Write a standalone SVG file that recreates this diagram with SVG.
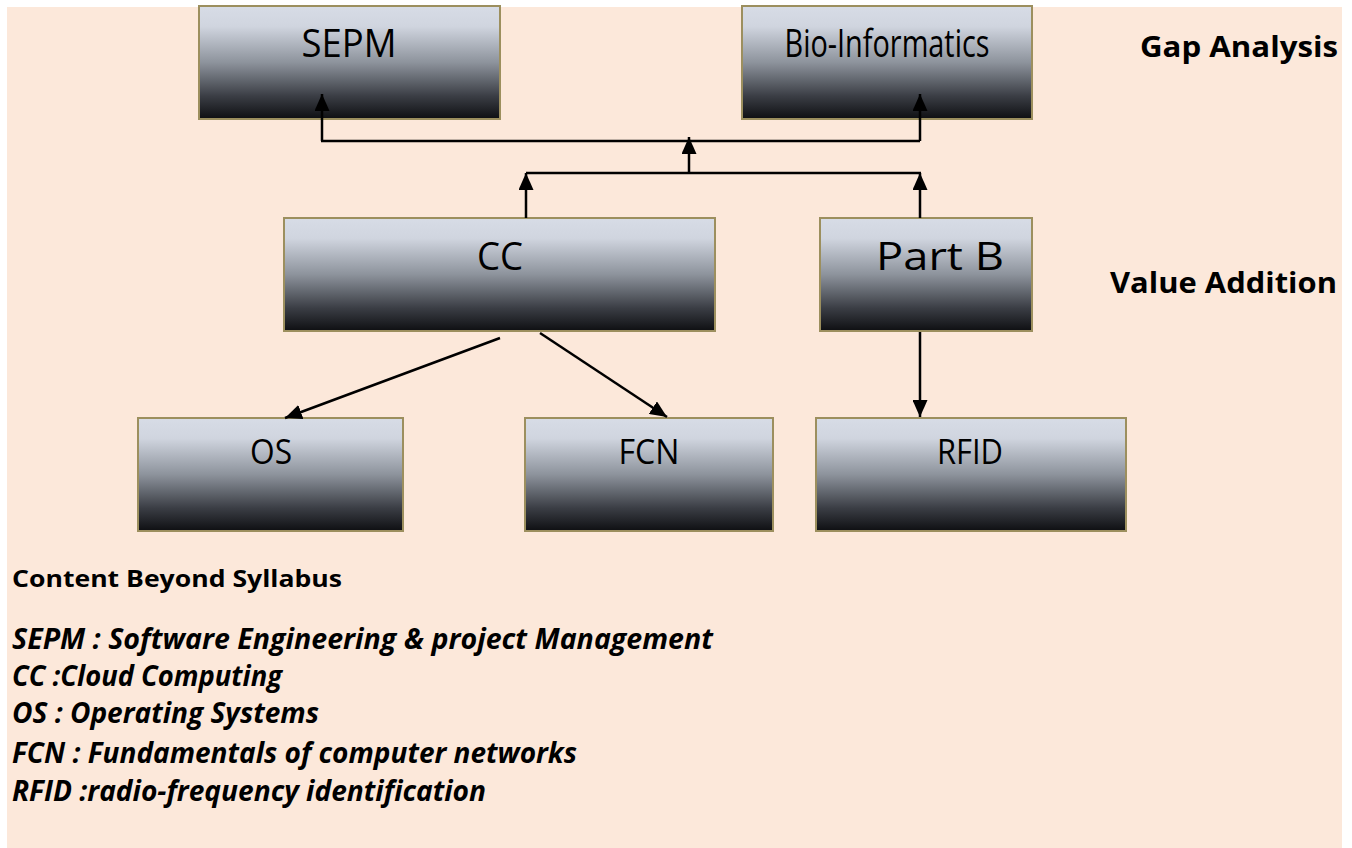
<svg xmlns="http://www.w3.org/2000/svg" width="1352" height="848" viewBox="0 0 1352 848">
  <style>
    .box { stroke: #9C8F5E; stroke-width: 2; fill: url(#g); }
    .lbl { font-family: "Open Sans", "Liberation Sans", sans-serif; fill: #000; text-anchor: middle; }
    .big { font-size: 39px; }
    .med { font-size: 34px; }
    .side { font-family: "Open Sans", "Liberation Sans", sans-serif; font-weight: bold; font-size: 29px; fill: #000; }
    .leg { font-family: "Open Sans", "Liberation Sans", sans-serif; font-weight: bold; font-style: italic; font-size: 28px; fill: #000; }
    .con { stroke: #000; stroke-width: 2.5; fill: none; }
  </style>
  <defs>
    <linearGradient id="g" x1="0" y1="0" x2="0" y2="1">
      <stop offset="0" stop-color="#D7DCE6"/>
      <stop offset="0.18" stop-color="#D0D5DF"/>
      <stop offset="0.5" stop-color="#8D939C"/>
      <stop offset="0.8" stop-color="#3A3D44"/>
      <stop offset="1" stop-color="#0E0F12"/>
    </linearGradient>
    <marker id="ah" markerWidth="17" markerHeight="15" refX="17" refY="7.5" orient="auto" markerUnits="userSpaceOnUse" viewBox="0 0 17 15">
      <path d="M0,0 L17,7.5 L0,15 Z" fill="#000"/>
    </marker>
  </defs>
  <rect x="7" y="7" width="1335" height="841" fill="#FCE8DA"/>

  <g id="n-sepm">
    <rect class="box" x="199" y="6" width="301" height="113"/>
    <text class="lbl big" x="349" y="57" textLength="95" lengthAdjust="spacingAndGlyphs">SEPM</text>
  </g>
  <g id="n-bio">
    <rect class="box" x="742" y="6" width="290" height="113"/>
    <text class="lbl big" x="887" y="57" textLength="205" lengthAdjust="spacingAndGlyphs">Bio-Informatics</text>
  </g>
  <g id="n-cc">
    <rect class="box" x="284" y="218" width="431" height="113"/>
    <text class="lbl big" x="500" y="270" textLength="46" lengthAdjust="spacingAndGlyphs">CC</text>
  </g>
  <g id="n-partb">
    <rect class="box" x="820" y="218" width="212" height="113"/>
    <text class="lbl big" x="940" y="270" textLength="128" lengthAdjust="spacingAndGlyphs">Part B</text>
  </g>
  <g id="n-os">
    <rect class="box" x="138" y="418" width="265" height="113"/>
    <text class="lbl med" x="271" y="464" textLength="42" lengthAdjust="spacingAndGlyphs">OS</text>
  </g>
  <g id="n-fcn">
    <rect class="box" x="525" y="418" width="248" height="113"/>
    <text class="lbl med" x="649" y="464" textLength="61" lengthAdjust="spacingAndGlyphs">FCN</text>
  </g>
  <g id="n-rfid">
    <rect class="box" x="816" y="418" width="310" height="113"/>
    <text class="lbl med" x="970" y="464" textLength="66" lengthAdjust="spacingAndGlyphs">RFID</text>
  </g>

  <g id="connectors">
    <line class="con" x1="322" y1="141" x2="322" y2="94" marker-end="url(#ah)"/>
    <line class="con" x1="321" y1="141" x2="920" y2="141"/>
    <line class="con" x1="920" y1="141" x2="920" y2="94" marker-end="url(#ah)"/>
    <line class="con" x1="689" y1="173" x2="689" y2="137" marker-end="url(#ah)"/>
    <line class="con" x1="526" y1="173" x2="921" y2="173"/>
    <line class="con" x1="526" y1="218" x2="526" y2="173" marker-end="url(#ah)"/>
    <line class="con" x1="920" y1="218" x2="920" y2="173" marker-end="url(#ah)"/>
    <line class="con" x1="500" y1="338" x2="285" y2="418" marker-end="url(#ah)"/>
    <line class="con" x1="540" y1="333" x2="667" y2="417" marker-end="url(#ah)"/>
    <line class="con" x1="920" y1="332" x2="920" y2="417" marker-end="url(#ah)"/>
  </g>

  <text class="side" x="1140" y="57" textLength="198" lengthAdjust="spacingAndGlyphs">Gap Analysis</text>
  <text class="side" x="1110" y="293" textLength="227" lengthAdjust="spacingAndGlyphs">Value Addition</text>

  <text class="side" x="12" y="587" style="font-size:24px" textLength="330" lengthAdjust="spacingAndGlyphs">Content Beyond Syllabus</text>
  <text class="leg" x="12" y="649" textLength="701" lengthAdjust="spacingAndGlyphs">SEPM : Software Engineering &amp; project Management</text>
  <text class="leg" x="12" y="686" textLength="270" lengthAdjust="spacingAndGlyphs">CC :Cloud Computing</text>
  <text class="leg" x="12" y="723" textLength="307" lengthAdjust="spacingAndGlyphs">OS : Operating Systems</text>
  <text class="leg" x="12" y="763" textLength="565" lengthAdjust="spacingAndGlyphs">FCN : Fundamentals of computer networks</text>
  <text class="leg" x="12" y="801" textLength="474" lengthAdjust="spacingAndGlyphs">RFID :radio-frequency identification</text>
</svg>
